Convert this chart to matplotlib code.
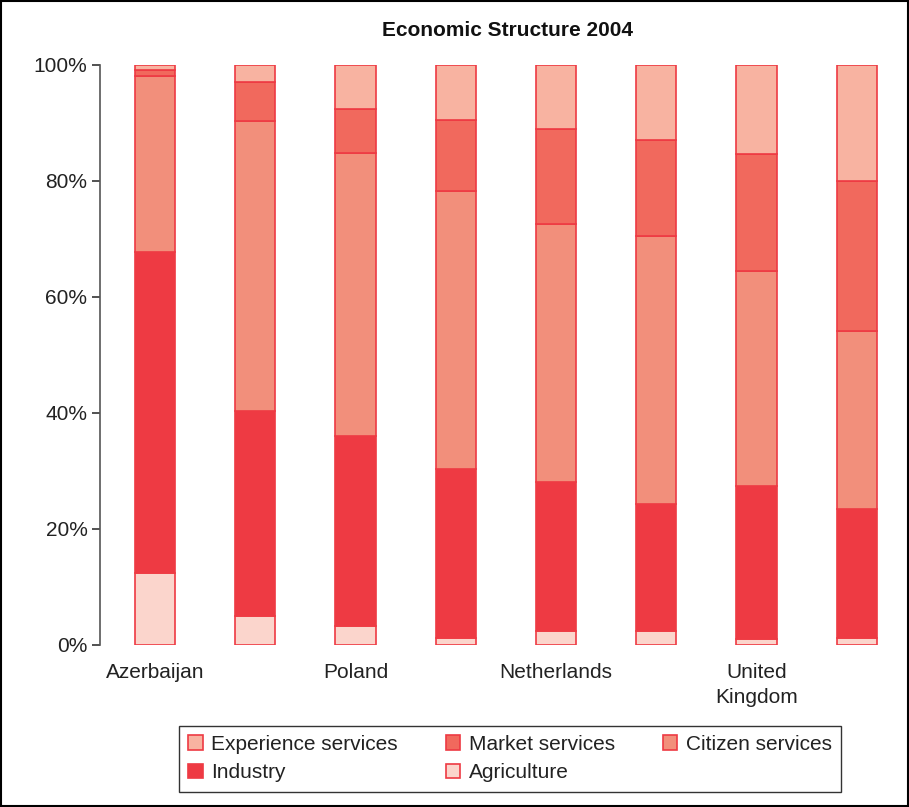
import matplotlib.pyplot as plt
import matplotlib.patches as mpatches
import numpy as np

plt.rcParams['font.family'] = ['Liberation Sans', 'DejaVu Sans']

countries = ['Azerbaijan', 'Russia', 'Poland', 'Germany',
             'Netherlands', 'Sweden', 'United\nKingdom', 'United States']
# shares in %, bottom to top
agriculture = [12.3, 5.0, 3.3, 1.2, 2.4, 2.4, 1.0, 1.2]
industry = [55.5, 35.3, 32.7, 29.1, 25.7, 21.9, 26.4, 22.2]
citizen = [30.3, 50.0, 48.8, 48.0, 44.5, 46.2, 37.1, 30.7]
market = [1.1, 6.7, 7.6, 12.2, 16.4, 16.6, 20.2, 25.9]
experience = [0.8, 3.0, 7.6, 9.5, 11.0, 12.9, 15.3, 20.0]

series = [('Agriculture', agriculture, '#fbd5cc'),
          ('Industry', industry, '#ee3a43'),
          ('Citizen services', citizen, '#f28f7b'),
          ('Market services', market, '#f1695d'),
          ('Experience services', experience, '#f8b3a1')]

fig = plt.figure(figsize=(9.09, 8.07), dpi=100)
ax = fig.add_axes([0.11, 0.201, 0.88, 0.7185])

x = np.arange(len(countries))
bottom = np.zeros(len(countries))
handles = {}
for name, vals, col in series:
    v = np.array(vals) / 100.0
    b = ax.bar(x, v, 0.4, bottom=bottom, color=col, edgecolor='#ee3a43',
               linewidth=1.2, label=name)
    handles[name] = b
    bottom += v

ax.set_xlim(-0.548, 7.43)
ax.set_ylim(0, 1)
ax.set_yticks(np.linspace(0, 1, 6))
ax.set_yticklabels(['%d%%' % v for v in range(0, 101, 20)], fontsize=15,
                   color='#222222')
ax.set_xticks(x[::2])
ax.set_xticklabels(countries[::2], fontsize=15, linespacing=1.4,
                   color='#222222')
ax.tick_params(axis='x', length=0, pad=13)
ax.tick_params(axis='y', length=6, width=1.2, color='#333333', pad=3)
for s in ['top', 'right', 'bottom']:
    ax.spines[s].set_visible(False)
ax.spines['left'].set_color('#555555')
ax.spines['left'].set_linewidth(1.2)

fig.text(0.558, 0.962, 'Economic Structure 2004', ha='center', va='center',
         fontsize=15, fontweight='bold', color='#111111')

order = ['Experience services', 'Industry', 'Market services',
         'Agriculture', 'Citizen services']
leg = fig.legend([handles[n] for n in order], order, loc='center',
                 bbox_to_anchor=(0.561, 0.060), ncol=3, fontsize=15,
                 frameon=True, fancybox=False, edgecolor='black',
                 handlelength=0.7, handleheight=0.7, handletextpad=0.4,
                 columnspacing=2.3, borderpad=0.45, labelspacing=0.45)
leg.get_frame().set_linewidth(1.0)
for t in leg.get_texts():
    t.set_color('#222222')

fig.patches.append(mpatches.Rectangle((0.001, 0.001), 0.998, 0.998,
                                      transform=fig.transFigure, fill=False,
                                      edgecolor='black', linewidth=1.5))

fig.savefig('out.png', dpi=100)
